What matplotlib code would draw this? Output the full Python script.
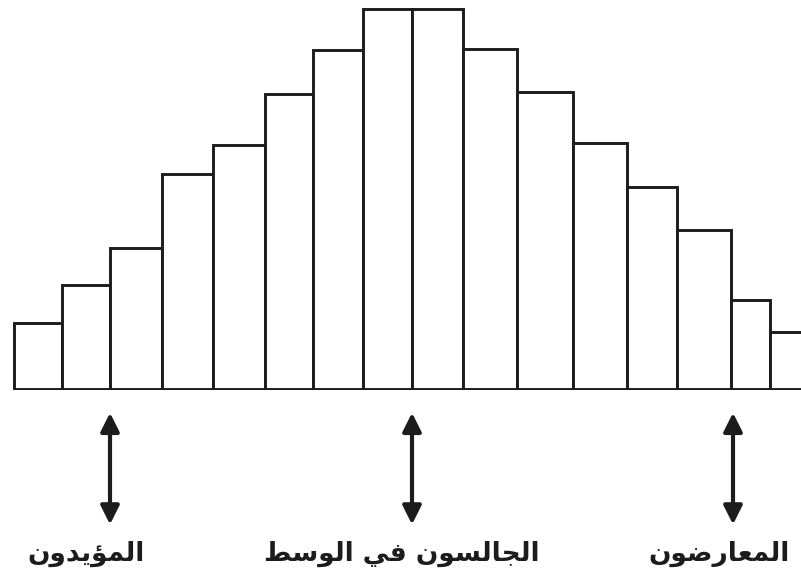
import matplotlib
matplotlib.use("Agg")
import matplotlib.pyplot as plt

# bin edges and bar heights
bin_edges = [14, 62, 110, 162, 213, 265, 313, 363, 412, 463, 517, 573, 627, 677, 731, 770, 812]
counts = [66, 104, 141, 216, 245, 296, 340, 381, 381, 341, 298, 247, 203, 159, 89, 57]

# group labels and where their arrows point (on the bin edges)
group_labels = ["المؤيدون", "الجالسون في الوسط", "المعارضون"]
arrow_x = [110, 412, 733]
label_x = [86, 402, 719]

# Arabic presentation forms: isolated, final, initial, medial
FORMS = {
    "ا": ("\uFE8D", "\uFE8E", None, None),
    "ل": ("\uFEDD", "\uFEDE", "\uFEDF", "\uFEE0"),
    "م": ("\uFEE1", "\uFEE2", "\uFEE3", "\uFEE4"),
    "ؤ": ("\uFE85", "\uFE86", None, None),
    "ي": ("\uFEF1", "\uFEF2", "\uFEF3", "\uFEF4"),
    "د": ("\uFEA9", "\uFEAA", None, None),
    "و": ("\uFEED", "\uFEEE", None, None),
    "ن": ("\uFEE5", "\uFEE6", "\uFEE7", "\uFEE8"),
    "ج": ("\uFE9D", "\uFE9E", "\uFE9F", "\uFEA0"),
    "س": ("\uFEB1", "\uFEB2", "\uFEB3", "\uFEB4"),
    "ف": ("\uFED1", "\uFED2", "\uFED3", "\uFED4"),
    "ط": ("\uFEC1", "\uFEC2", "\uFEC3", "\uFEC4"),
    "ع": ("\uFEC9", "\uFECA", "\uFECB", "\uFECC"),
    "ر": ("\uFEAD", "\uFEAE", None, None),
    "ض": ("\uFEBD", "\uFEBE", "\uFEBF", "\uFEC0"),
}


def shape(text):
    out = []
    for i, ch in enumerate(text):
        if ch not in FORMS:
            out.append(ch)
            continue
        prev = text[i - 1] if i > 0 else None
        nxt = text[i + 1] if i + 1 < len(text) else None
        joins_prev = prev in FORMS and FORMS[prev][2] is not None
        joins_next = FORMS[ch][2] is not None and nxt in FORMS
        iso, fin, ini, med = FORMS[ch]
        if joins_prev and joins_next:
            out.append(med)
        elif joins_prev:
            out.append(fin)
        elif joins_next:
            out.append(ini)
        else:
            out.append(iso)
    # right to left -> visual order
    return "".join(out)[::-1]


ink = "#1c1c1c"
fig = plt.figure(figsize=(8.01, 5.88), dpi=100)
ax = fig.add_axes([0, 198 / 588, 1, 390 / 588])

widths = [b - a for a, b in zip(bin_edges[:-1], bin_edges[1:])]
ax.bar(bin_edges[:-1], counts, width=widths, align="edge",
       color="white", edgecolor=ink, linewidth=2.1)
ax.set_xlim(0, 801)
ax.set_ylim(-1, 390)
ax.axis("off")

for x in arrow_x:
    ax.annotate("", xy=(x, 0.108), xytext=(x, 0.298),
                xycoords=("data", "figure fraction"),
                textcoords=("data", "figure fraction"),
                arrowprops=dict(arrowstyle="<|-|>", lw=3, color=ink,
                                mutation_scale=28, shrinkA=0, shrinkB=0))

for x, lab in zip(label_x, group_labels):
    ax.annotate(shape(lab), xy=(x, 0.058), xycoords=("data", "figure fraction"),
                ha="center", va="center", fontsize=19, fontweight="bold",
                color=ink, family="DejaVu Sans")

fig.savefig("out.png", dpi=100)
